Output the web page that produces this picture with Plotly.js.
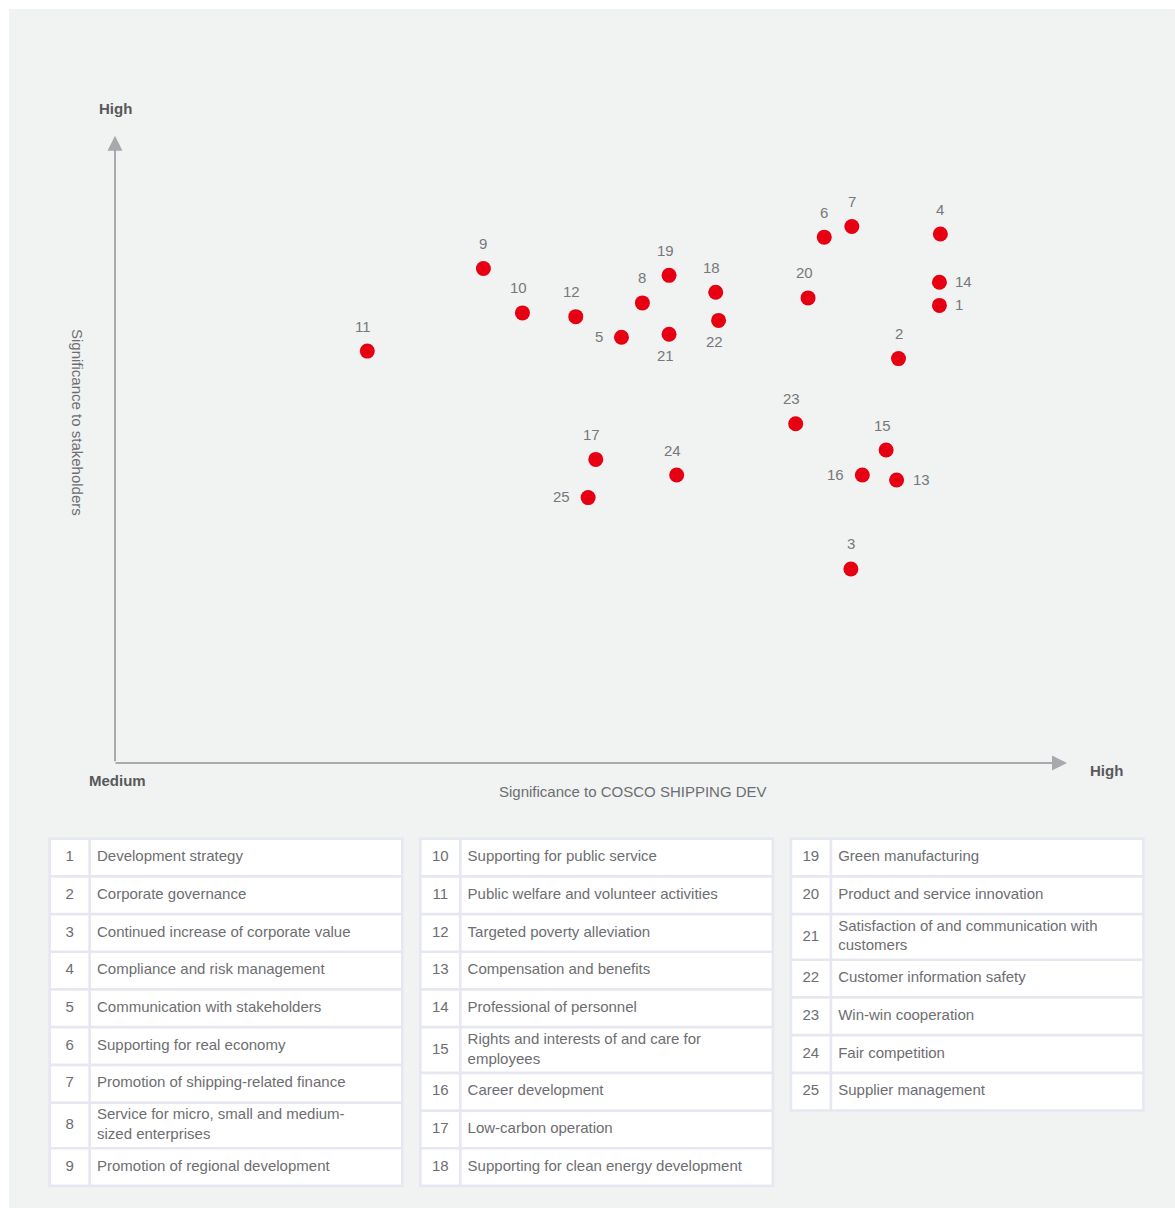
<!DOCTYPE html>
<html>
<head>
<meta charset="utf-8">
<script src="https://cdn.plot.ly/plotly-3.0.1.min.js"></script>
<style>
  html, body { margin: 0; padding: 0; background: #ffffff; }
  #chart { width: 1175px; height: 1208px; }
</style>
</head>
<body>
<div id="chart"></div>
<script>
// ---------- DATA ----------
const issueIds = ['1','2','3','4','5','6','7','8','9','10','11','12','13','14','15','16','17','18','19','20','21','22','23','24','25'];
// Significance to COSCO SHIPPING DEV (0 = Medium, 10 = High)
const companyScore = [8.66, 8.23, 7.73, 8.67, 5.32, 7.45, 7.74, 5.54, 3.87, 4.28, 2.65, 4.84, 8.21, 8.66, 8.10, 7.85, 5.05, 6.31, 5.82, 7.28, 5.82, 6.34, 7.15, 5.90, 4.97];
// Significance to stakeholders (0 = Medium, 10 = High)
const stakeholderScore = [7.31, 6.46, 3.10, 8.45, 6.80, 8.40, 8.57, 7.35, 7.90, 7.19, 6.58, 7.13, 4.52, 7.68, 5.00, 4.60, 4.85, 7.52, 7.79, 7.43, 6.85, 7.07, 5.42, 4.60, 4.24];
// Where each point's number sits relative to its dot
const labelSide = ['right','top','top','top','left','top','top','top','top','top','top','top','right','right','top','left','top','top','top','top','bottom','bottom','top','top','left'];

const issueNames = [
  'Development strategy',
  'Corporate governance',
  'Continued increase of corporate value',
  'Compliance and risk management',
  'Communication with stakeholders',
  'Supporting for real economy',
  'Promotion of shipping-related finance',
  'Service for micro, small and medium-<br>sized enterprises',
  'Promotion of regional development',
  'Supporting for public service',
  'Public welfare and volunteer activities',
  'Targeted poverty alleviation',
  'Compensation and benefits',
  'Professional of personnel',
  'Rights and interests of and care for<br>employees',
  'Career development',
  'Low-carbon operation',
  'Supporting for clean energy development',
  'Green manufacturing',
  'Product and service innovation',
  'Satisfaction of and communication with<br>customers',
  'Customer information safety',
  'Win-win cooperation',
  'Fair competition',
  'Supplier management'
];
const tableGroups = [[0, 9], [9, 18], [18, 25]];

const xAxisTitle = 'Significance to COSCO SHIPPING DEV';
const yAxisTitle = 'Significance to stakeholders';
const axisLow = 'Medium';
const axisHigh = 'High';

// ---------- LAYOUT CONSTANTS ----------
const W = 1175, H = 1208;
const px = v => v / W;
const py = v => 1 - v / H;
const FONT = 'Liberation Sans, Arial, Helvetica, sans-serif';
const TXT = '#6d6e71';
const AXIS = '#a7a9ac';
const RED = '#e60012';
const BORDER = '#e7e7f1';

// table geometry (pixel units on the x2/y2 page axes)
const T = { top: 840, gap: 2.7, single: 35, double: 43, colLeft: [51, 421.6, 792.2], numW: 37.3, textW: 310, pad: 2.6, inset: 6 };

// ---------- BUILD TABLE ----------
const shapes = [
  { type: 'rect', xref: 'paper', yref: 'paper', x0: px(9), x1: 1, y0: 0, y1: py(9), fillcolor: '#f1f2f2', line: { width: 0 }, layer: 'below' }
];
const numX = [], numY = [], numT = [], nameX = [], nameY = [], nameT = [];
tableGroups.forEach((g, ci) => {
  const x0 = T.colLeft[ci];
  const xText = x0 + T.numW + T.gap;
  let y = T.top;
  const cells = [];
  for (let k = g[0]; k < g[1]; k++) {
    const lines = issueNames[k].split('<br>').length;
    const h = lines > 1 ? T.double : T.single;
    cells.push([x0, x0 + T.numW, y, y + h]);
    cells.push([xText, xText + T.textW, y, y + h]);
    numX.push(x0 + T.numW / 2); numY.push(y + h / 2); numT.push(issueIds[k]);
    nameX.push(xText + T.inset); nameY.push(y + h / 2); nameT.push(issueNames[k]);
    y += h + T.gap;
  }
  shapes.push({ type: 'rect', xref: 'x2', yref: 'y2', x0: x0 - T.pad, x1: xText + T.textW + T.pad, y0: T.top - T.pad, y1: y - T.gap + T.pad, fillcolor: BORDER, line: { width: 0 }, layer: 'below' });
  cells.forEach(c => shapes.push({ type: 'rect', xref: 'x2', yref: 'y2', x0: c[0], x1: c[1], y0: c[2], y1: c[3], fillcolor: '#ffffff', line: { width: 0 }, layer: 'below' }));
});

// ---------- TRACES ----------
const traces = [
  {
    type: 'scatter', mode: 'markers',
    x: companyScore, y: stakeholderScore, text: issueIds,
    marker: { color: RED, size: 15, line: { width: 0 } },
    hoverinfo: 'text', showlegend: false, xaxis: 'x', yaxis: 'y'
  },
  {
    type: 'scatter', mode: 'text',
    x: numX, y: numY, text: numT, textposition: 'middle center',
    textfont: { family: FONT, size: 15, color: TXT },
    hoverinfo: 'skip', showlegend: false, xaxis: 'x2', yaxis: 'y2'
  },
  {
    type: 'scatter', mode: 'text',
    x: nameX, y: nameY, text: nameT, textposition: 'middle right',
    textfont: { family: FONT, size: 15, color: TXT },
    marker: { size: 0 },
    hoverinfo: 'skip', showlegend: false, xaxis: 'x2', yaxis: 'y2'
  }
];

// ---------- ANNOTATIONS ----------
const annotations = [];
issueIds.forEach((id, i) => {
  const side = labelSide[i];
  const a = {
    x: companyScore[i], y: stakeholderScore[i], xref: 'x', yref: 'y',
    text: id, showarrow: false,
    font: { family: FONT, size: 15, color: '#77787b' },
    xanchor: 'center', yanchor: 'middle'
  };
  if (side === 'top') { a.yshift = 25; a.xshift = id.length > 1 ? -4 : 0; }
  if (side === 'bottom') { a.yshift = -21; a.xshift = -4; }
  if (side === 'right') { a.xanchor = 'left'; a.xshift = 14; a.yshift = 1; }
  if (side === 'left') { a.xanchor = 'right'; a.xshift = -16; a.yshift = 1; }
  annotations.push(a);
});

// axis arrows
annotations.push({
  xref: 'x domain', yref: 'y domain', x: 0, y: 1.002, ax: 0, ay: 627,
  axref: 'pixel', ayref: 'pixel', text: '', showarrow: true,
  arrowhead: 2, arrowsize: 1.5, arrowwidth: 2, arrowcolor: AXIS, standoff: 0, startstandoff: 0
});
annotations.push({
  xref: 'x domain', yref: 'y domain', x: 1, y: 0, ax: -953, ay: 0,
  axref: 'pixel', ayref: 'pixel', text: '', showarrow: true,
  arrowhead: 2, arrowsize: 1.5, arrowwidth: 2, arrowcolor: AXIS, standoff: 0, startstandoff: 0
});

// axis end labels and titles
const boldFont = { family: FONT, size: 15, color: '#58595b', weight: 'bold' };
annotations.push({ xref: 'paper', yref: 'paper', x: px(115), y: py(108), text: '<b>' + axisHigh + '</b>', showarrow: false, font: boldFont, xanchor: 'center', yanchor: 'middle' });
annotations.push({ xref: 'paper', yref: 'paper', x: px(117), y: py(780), text: '<b>' + axisLow + '</b>', showarrow: false, font: boldFont, xanchor: 'center', yanchor: 'middle' });
annotations.push({ xref: 'paper', yref: 'paper', x: px(1106), y: py(770), text: '<b>' + axisHigh + '</b>', showarrow: false, font: boldFont, xanchor: 'center', yanchor: 'middle' });
annotations.push({ xref: 'paper', yref: 'paper', x: px(633), y: py(791), text: xAxisTitle, showarrow: false, font: { family: FONT, size: 15, color: TXT }, xanchor: 'center', yanchor: 'middle' });
annotations.push({ xref: 'paper', yref: 'paper', x: px(78), y: py(423), text: yAxisTitle, showarrow: false, textangle: 90, font: { family: FONT, size: 15, color: TXT }, xanchor: 'center', yanchor: 'middle' });

// ---------- LAYOUT ----------
const hidden = { showgrid: false, zeroline: false, showticklabels: false, showline: false, ticks: '', fixedrange: true };
const layout = {
  width: W, height: H,
  margin: { l: 0, r: 0, t: 0, b: 0, pad: 0 },
  paper_bgcolor: '#ffffff',
  plot_bgcolor: 'rgba(0,0,0,0)',
  showlegend: false,
  hovermode: 'closest',
  xaxis: Object.assign({ domain: [px(115), px(1067)], range: [0, 10], anchor: 'y' }, hidden),
  yaxis: Object.assign({ domain: [py(763), py(137)], range: [0, 10], anchor: 'x' }, hidden),
  xaxis2: Object.assign({ domain: [0, 1], range: [0, W], anchor: 'y2' }, hidden),
  yaxis2: Object.assign({ domain: [0, 1], range: [H, 0], anchor: 'x2' }, hidden),
  shapes: shapes,
  annotations: annotations
};

Plotly.newPlot('chart', traces, layout, { displayModeBar: false });
</script>
</body>
</html>
